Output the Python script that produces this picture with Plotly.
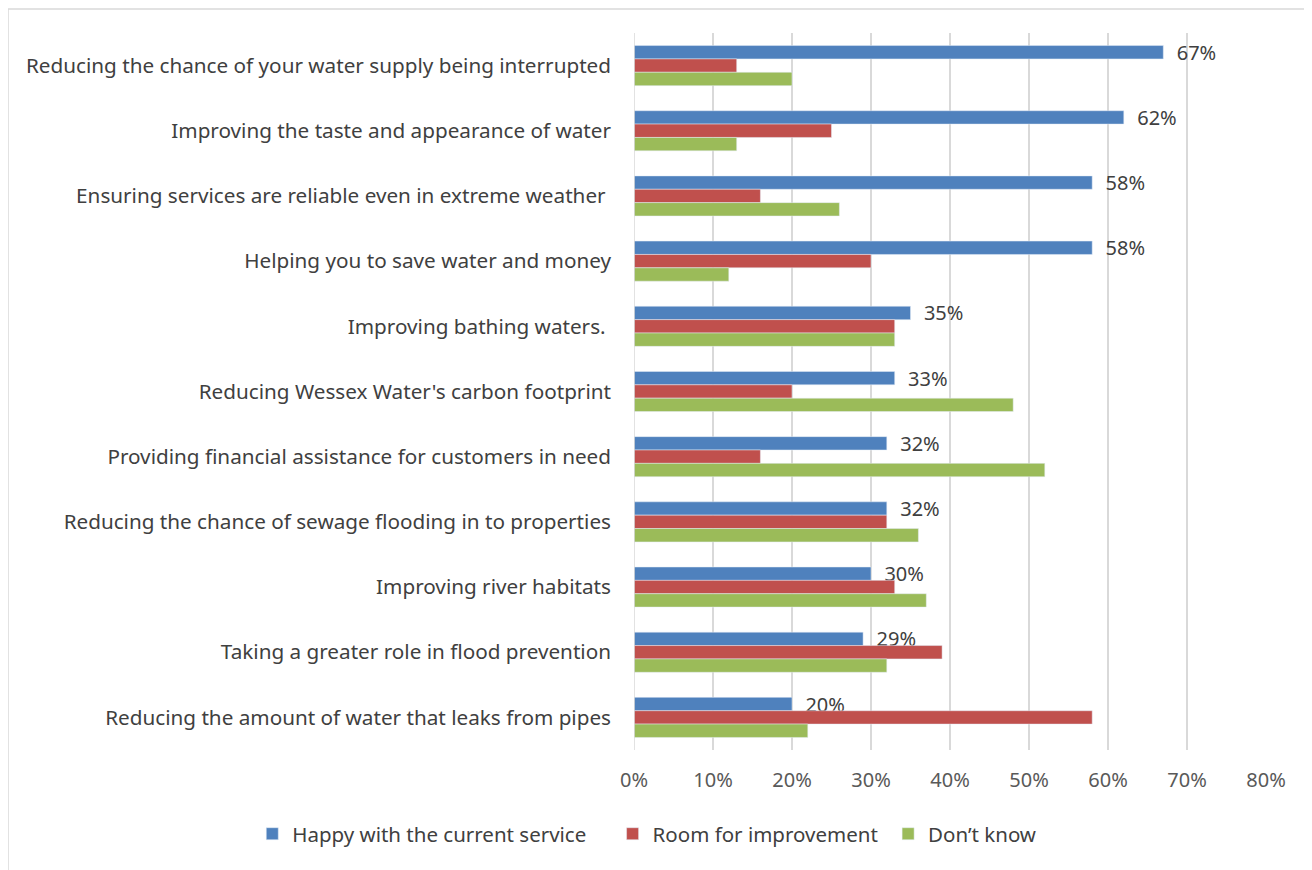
import plotly.graph_objects as go

categories = [
    "Reducing the chance of your water supply being interrupted",
    "Improving the taste and appearance of water",
    "Ensuring services are reliable even in extreme weather ",
    "Helping you to save water and money",
    "Improving bathing waters. ",
    "Reducing Wessex Water's carbon footprint",
    "Providing financial assistance for customers in need",
    "Reducing the chance of sewage flooding in to properties",
    "Improving river habitats",
    "Taking a greater role in flood prevention",
    "Reducing the amount of water that leaks from pipes",
]
series_names = ["Happy with the current service", "Room for improvement", "Don\u2019t know"]
happy = [67, 62, 58, 58, 35, 33, 32, 32, 30, 29, 20]
room = [13, 25, 16, 30, 33, 20, 16, 32, 33, 39, 58]
dont_know = [20, 13, 26, 12, 33, 48, 52, 36, 37, 32, 22]
x_ticks = [0, 10, 20, 30, 40, 50, 60, 70, 80]

FONT = "Noto Sans"
NB = "\u00a0"
fig = go.Figure()
fig.add_trace(go.Bar(
    y=categories, x=happy, orientation="h", name=series_names[0] + NB * 4,
    marker=dict(color="#4F81BD"),
    text=[NB * 2 + str(v) + "%" for v in happy], texttemplate="%{text}",
    textposition="outside", constraintext="none",
    cliponaxis=False, textfont=dict(size=20, color="#404040", family=FONT),
))
fig.add_trace(go.Bar(
    y=categories, x=room, orientation="h", name=series_names[1] + NB,
    marker=dict(color="#C0504D"),
))
fig.add_trace(go.Bar(
    y=categories, x=dont_know, orientation="h", name=series_names[2],
    marker=dict(color="#9BBB59"),
))

fig.update_layout(
    width=1304, height=862,
    margin=dict(l=626, r=46, t=25, b=120),
    paper_bgcolor="white", plot_bgcolor="white",
    barmode="group", bargap=0.385, bargroupgap=0,
    font=dict(family=FONT, size=20, color="#404040"),
    showlegend=True,
    legend=dict(orientation="h", xref="paper", yref="paper",
                x=-0.604, xanchor="left", y=-0.117, yanchor="middle",
                font=dict(size=20.5, color="#404040", family=FONT), traceorder="normal",
                itemwidth=30),
    xaxis=dict(range=[0, 80], tickvals=x_ticks, ticktext=[f"{v}%" for v in x_ticks],
               showgrid=True, gridcolor="#D9D9D9", gridwidth=1.5,
               zeroline=False, showline=False,
               tickfont=dict(size=20, color="#595959", family=FONT),
               ticklabelstandoff=16, fixedrange=True),
    yaxis=dict(autorange="reversed", showgrid=False, showline=False, zeroline=False,
               tickfont=dict(size=20.7, color="#404040", family=FONT),
               ticklabelstandoff=22),
    shapes=[
        dict(type="line", xref="paper", yref="paper", x0=-0.9905, x1=1.1, y0=1.0335, y1=1.0335,
             line=dict(color="#D9D9D9", width=1.5)),
        dict(type="line", xref="paper", yref="paper", x0=-0.9905, x1=-0.9905, y0=1.0335, y1=-0.2,
             line=dict(color="#D9D9D9", width=1.5)),
        dict(type="line", xref="x", yref="paper", x0=0, x1=0, y0=0, y1=1,
             line=dict(color="#D9D9D9", width=1.5)),
    ],
)
fig.write_html("out.html")
